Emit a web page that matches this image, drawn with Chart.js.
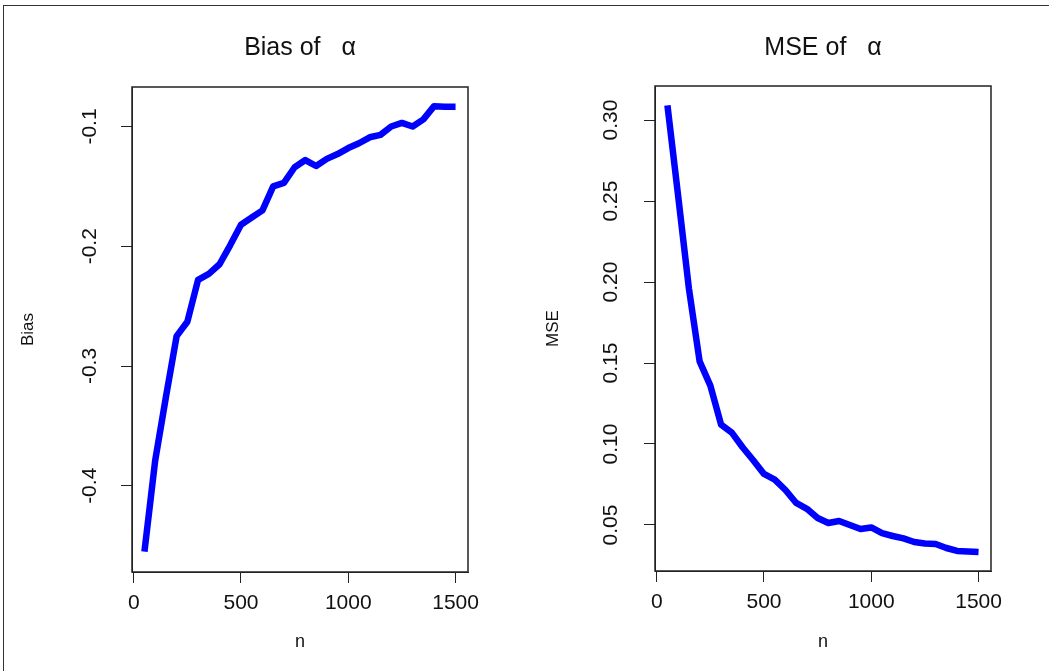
<!DOCTYPE html>
<html>
<head>
<meta charset="utf-8">
<script src="https://cdn.jsdelivr.net/npm/chart.js@4.4.1/dist/chart.umd.min.js"></script>
<style>
  html, body { margin: 0; padding: 0; background: #fff; }
  body { width: 1049px; height: 671px; position: relative; overflow: hidden; }
  .frame { position: absolute; left: 3px; top: 5px; right: -10px; bottom: -10px;
           border-top: 1px solid #333; border-left: 1px solid #333; }
  canvas { position: absolute; top: 0; }
  #biasChart { left: 0; }
  #mseChart { left: 524px; }
</style>
</head>
<body>
<div class="frame"></div>
<canvas id="biasChart" width="525" height="671"></canvas>
<canvas id="mseChart" width="525" height="671"></canvas>
<script>
// sample sizes
const nValues = [50, 100, 150, 200, 250, 300, 350, 400, 450, 500,
  550, 600, 650, 700, 750, 800, 850, 900, 950, 1000,
  1050, 1100, 1150, 1200, 1250, 1300, 1350, 1400, 1450, 1500];

const biasValues = [-0.455, -0.379, -0.326, -0.275, -0.263, -0.228, -0.223, -0.215, -0.199, -0.182,
  -0.176, -0.170, -0.150, -0.147, -0.134, -0.128, -0.133, -0.127, -0.123, -0.118,
  -0.114, -0.109, -0.107, -0.100, -0.097, -0.100, -0.094, -0.083, -0.0835, -0.0835];

const mseValues = [0.309, 0.253, 0.196, 0.151, 0.136, 0.112, 0.107, 0.098, 0.090, 0.0815,
  0.078, 0.0716, 0.0636, 0.060, 0.0543, 0.0512, 0.0525, 0.050, 0.0475, 0.0485,
  0.045, 0.0432, 0.0417, 0.0395, 0.0386, 0.0383, 0.0358, 0.034, 0.0336, 0.0333];

const nTicks = [0, 500, 1000, 1500];
const biasTicks = [-0.4, -0.3, -0.2, -0.1];
const mseTicks = [0.05, 0.10, 0.15, 0.20, 0.25, 0.30];

const FONT = "'Liberation Sans', Arial, sans-serif";
const INK = "#111";

// R style box around the plot region
const boxPlugin = {
  id: "box",
  afterDraw(chart) {
    const { ctx, chartArea: a } = chart;
    ctx.save();
    ctx.strokeStyle = "#222";
    ctx.lineWidth = 1.5;
    ctx.strokeRect(a.left, a.top, a.right - a.left, a.bottom - a.top);
    ctx.restore();
  }
};

function makePanel(id, cfg) {
  const points = nValues.map((n, i) => ({ x: n, y: cfg.values[i] }));
  return new Chart(document.getElementById(id), {
    type: "line",
    data: {
      datasets: [{
        data: points,
        borderColor: "#0000ff",
        borderWidth: 6.5,
        pointRadius: 0,
        tension: 0,
        borderJoinStyle: "round",
        borderCapStyle: "butt"
      }]
    },
    options: {
      responsive: false,
      animation: false,
      devicePixelRatio: 1,
      layout: { padding: { left: 0, right: cfg.padRight, top: 0, bottom: 0 } },
      plugins: {
        legend: { display: false },
        tooltip: { enabled: false },
        title: {
          display: true,
          text: cfg.title,
          fullSize: false,
          color: INK,
          font: { family: FONT, size: 25, weight: "normal", lineHeight: 1.2 },
          padding: { top: 33, bottom: cfg.top - 33 - 30 }
        }
      },
      scales: {
        x: {
          type: "linear",
          min: -8,
          max: 1558,
          afterBuildTicks: s => { s.ticks = nTicks.map(v => ({ value: v })); },
          afterFit: s => { s.height = 671 - cfg.bottom; },
          grid: { drawOnChartArea: false, drawTicks: true, tickLength: 11, color: "#222" },
          border: { display: true, color: "#222" },
          ticks: {
            color: INK, font: { family: FONT, size: 21 }, padding: 8, maxRotation: 0,
            callback: v => String(v)
          },
          title: {
            display: true, text: "n", color: INK,
            font: { family: FONT, size: 18 },
            padding: { top: 0, bottom: 18 }
          }
        },
        y: {
          type: "linear",
          min: cfg.yMin,
          max: cfg.yMax,
          afterBuildTicks: s => { s.ticks = cfg.ticks.map(v => ({ value: v })); },
          afterFit: s => { s.width = cfg.left; },
          grid: { drawOnChartArea: false, drawTicks: true, tickLength: 11, color: "#222" },
          border: { display: true, color: "#222" },
          ticks: {
            color: INK,
            font: { family: FONT, size: 21 },
            minRotation: 90,
            maxRotation: 90,
            crossAlign: "center",
            padding: cfg.tickPad,
            callback: v => v.toFixed(cfg.digits)
          },
          title: {
            display: true, text: cfg.yLabel, color: INK,
            font: { family: FONT, size: 17 },
            padding: { top: cfg.yTitlePad, bottom: 0 }
          }
        }
      }
    },
    plugins: [boxPlugin]
  });
}

makePanel("biasChart", {
  values: biasValues,
  title: "Bias of   \u03b1",
  yLabel: "Bias",
  ticks: biasTicks,
  digits: 1,
  yMin: -0.472,
  yMax: -0.067,
  left: 132,
  padRight: 525 - 468,
  top: 87,
  bottom: 572,
  tickPad: 13,
  yTitlePad: 18
});

makePanel("mseChart", {
  values: mseValues,
  title: "MSE of   \u03b1",
  yLabel: "MSE",
  ticks: mseTicks,
  digits: 2,
  yMin: 0.0216,
  yMax: 0.321,
  left: 131,
  padRight: 525 - 467,
  top: 86,
  bottom: 571,
  tickPad: 12,
  yTitlePad: 19
});
</script>
</body>
</html>
